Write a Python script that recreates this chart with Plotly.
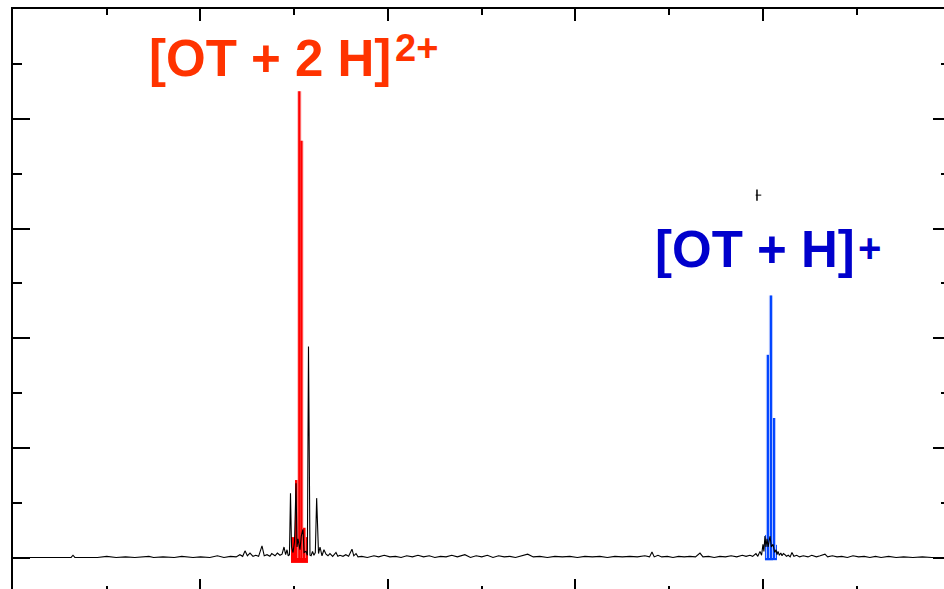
import plotly.graph_objects as go

# ---------------- data (m/z, relative intensity %) ----------------
black_mz = [200, 230, 262, 264, 266, 290, 300, 310, 320, 330, 345, 350, 360, 372, 380, 392, 400, 410, 418, 425, 432, 438,
            442, 445, 447.5, 450, 452.8, 456, 459, 462, 465.6, 468, 471, 474, 476, 479.5, 482, 484.8, 487, 489.1, 490.8,
            492.3, 493.6, 494.9, 496.0, 497.1, 498.7, 500.3, 501.9, 503.0, 504.0, 506.1, 507.5, 509.3, 510.5, 512.5, 514,
            515.2, 516.8, 518, 519.5, 521, 522.5, 523.9, 525.9, 527.5, 529.6, 531.7, 533.9, 536, 538.1, 541, 544.5, 546.5,
            548.8, 552, 555, 558, 561.6, 563.5, 565.9, 568,
            572, 578, 585, 590, 596, 602, 608, 614, 620, 626, 632, 638, 644, 650, 656, 662, 668, 674, 682, 688, 694, 700,
            706, 712, 718, 724, 730, 736, 742, 749, 755, 762, 770, 778, 786, 794, 802, 810, 818, 826, 834, 842, 850, 858,
            866, 874, 879, 881.6, 884, 888, 892, 898, 904, 910, 916, 922, 928, 932.8, 936, 942, 948, 954, 960, 966, 972,
            978, 982, 986.1, 989,
            992.5, 994.5, 996.8, 998.5, 1000, 1001, 1002.1, 1003.2, 1004.3, 1005.5, 1007.5, 1009, 1010.7, 1012.5, 1013.9,
            1015, 1016, 1017.5, 1019, 1020.3, 1021.8, 1023.5, 1025, 1027, 1029, 1030.9, 1033, 1036, 1039,
            1043, 1048, 1052, 1057, 1061, 1066.1, 1069, 1074, 1079, 1084, 1090, 1096, 1102, 1108, 1114, 1120, 1126, 1134,
            1142, 1150, 1160, 1170, 1180, 1193]
black_int = [0.1, 0.1, 0.1, 0.5, 0.1, 0.1, 0.3, 0.1, 0.2, 0.1, 0.3, 0.1, 0.2, 0.1, 0.3, 0.1, 0.2, 0.1, 0.4, 0.1, 0.3, 0.2,
             0.6, 0.3, 1.3, 0.4, 0.9, 0.3, 0.5, 0.3, 2.2, 0.4, 0.6, 0.3, 0.8, 0.4, 0.9, 0.5, 0.7, 2.0, 0.6,
             1.5, 0.4, 0.6, 11.8, 2.0, 1.0, 3.0, 13.6, 2.0, 3.5, 1.5, 4.0, 5.2, 1.0, 1.2, 0.5,
             38.5, 0.5, 0.4, 1.2, 0.5, 1.0, 10.9, 0.8, 2.0, 0.4, 1.5, 0.7, 0.4, 0.8, 0.3, 1.0, 0.3,
             0.5, 0.3, 0.6, 0.3, 1.6, 0.4, 0.8, 0.2,
             0.3, 0.1, 0.4, 0.2, 0.5, 0.2, 0.3, 0.1, 0.4, 0.2, 0.5, 0.2, 0.4, 0.1, 0.3, 0.2, 0.5, 0.2, 0.6, 0.1, 0.4, 0.2,
             0.5, 0.1, 0.4, 0.2, 0.3, 0.1, 0.4, 0.7, 0.2, 0.3, 0.1, 0.3, 0.2, 0.3, 0.1, 0.3, 0.2, 0.3, 0.1, 0.3, 0.2, 0.3,
             0.2, 0.4, 0.2, 1.1, 0.2, 0.5, 0.2, 0.3, 0.1, 0.3, 0.2, 0.3, 0.2, 0.9, 0.2, 0.3, 0.1, 0.3, 0.2, 0.4, 0.2,
             0.5, 0.3, 0.5, 0.3,
             0.8, 0.3, 1.2, 0.5, 2.5, 1.2, 4.0, 2.0, 3.5, 2.0, 4.0, 2.0, 2.5, 1.0, 1.5,
             0.6, 1.2, 0.5, 0.9, 0.4, 0.8, 0.6, 0.3, 0.5, 0.2, 1.0, 0.3, 0.5, 0.2,
             0.4, 0.2, 0.5, 0.2, 0.4, 0.7, 0.2, 0.4, 0.2, 0.3, 0.1, 0.4, 0.2, 0.3, 0.1, 0.3, 0.1, 0.3,
             0.1, 0.2, 0.1, 0.2, 0.1, 0.1]

# simulated isotope envelope [OT + 2H]2+
red_mz = [502.4, 505.4, 507.7, 510.9]
red_int = [14.2, 85.0, 76.0, 5.5]
red_env_mz = [505.6]
red_env_int = [3.8]

# simulated isotope envelope [OT + H]+
blue_mz = [1005.3, 1008.5, 1011.7]
blue_int = [37.0, 47.8, 25.5]
blue_env_mz = [1006.4, 1008.5]
blue_env_int = [4.2, 2.4]

# small stray cursor mark in the original figure
mark_mz = [993.6]
mark_int = [66.1]

x_range = [200, 1193.1]
y_range = [-5.65, 100]

label_red = "[OT + 2 H]"
label_red_sup = "2+"
label_blue = "[OT + H]"
label_blue_sup = "+"

RED = "#ff0000"
BLUE = "#0044ff"

fig = go.Figure()

# red envelope
fig.add_trace(go.Bar(x=red_env_mz, y=[v + 0.9 for v in red_env_int], base=-0.9, width=18.1,
                     marker=dict(color=RED, line=dict(width=0)), hoverinfo="skip"))
fig.add_trace(go.Bar(x=red_mz, y=red_int, width=[3.2, 4.4, 4.4, 3.2],
                     marker=dict(color="#ffb8b8", line=dict(width=0)), hoverinfo="skip"))
fig.add_trace(go.Bar(x=red_mz, y=red_int, width=[2.0, 2.4, 2.4, 2.0],
                     marker=dict(color=RED, line=dict(width=0)), hoverinfo="skip"))

# blue envelope
fig.add_trace(go.Bar(x=blue_env_mz, y=[v + 0.4 for v in blue_env_int], base=-0.4, width=[8.5, 12.8],
                     marker=dict(color=BLUE, line=dict(width=0)), hoverinfo="skip"))
fig.add_trace(go.Bar(x=blue_mz, y=blue_int, width=4.4,
                     marker=dict(color="#b8c8ff", line=dict(width=0)), hoverinfo="skip"))
fig.add_trace(go.Bar(x=blue_mz, y=blue_int, width=2.2,
                     marker=dict(color=BLUE, line=dict(width=0)), hoverinfo="skip"))

# measured spectrum
fig.add_trace(go.Scatter(x=black_mz, y=black_int, mode="lines",
                         line=dict(color="black", width=1.1), hoverinfo="skip"))

# stray mark
fig.add_trace(go.Scatter(x=mark_mz, y=mark_int, mode="markers", hoverinfo="skip",
                         marker=dict(symbol="line-ns", size=8, line=dict(color="black", width=1.5))))
fig.add_trace(go.Scatter(x=[m + 1.6 for m in mark_mz], y=mark_int, mode="markers", hoverinfo="skip",
                         marker=dict(symbol="line-ew", size=4, line=dict(color="black", width=1))))

# helper trace for mirrored axes
fig.add_trace(go.Scatter(x=x_range, y=y_range, xaxis="x2", yaxis="y2", mode="markers",
                         marker=dict(opacity=0), hoverinfo="skip"))

common = dict(showgrid=False, zeroline=False, showticklabels=False, tickcolor="black",
              tickwidth=2, ticks="inside")
fig.update_layout(
    width=944, height=589,
    margin=dict(l=13, r=0, t=9, b=0),
    plot_bgcolor="white", paper_bgcolor="white",
    showlegend=False, barmode="overlay",
    xaxis=dict(range=x_range, tick0=200, dtick=200, ticklen=10, showline=False,
               minor=dict(dtick=100, tick0=200, ticks="inside", ticklen=3, tickwidth=2, tickcolor="black"),
               **common),
    xaxis2=dict(range=x_range, overlaying="x", side="top", tick0=200, dtick=200, ticklen=12,
                showline=True, linecolor="black", linewidth=2,
                minor=dict(dtick=100, tick0=200, ticks="inside", ticklen=6, tickwidth=2, tickcolor="black"),
                **common),
    yaxis=dict(range=y_range, tick0=0, dtick=20, ticklen=17, showline=True, linecolor="black", linewidth=2,
               minor=dict(dtick=10, tick0=0, ticks="inside", ticklen=9, tickwidth=2, tickcolor="black"),
               **common),
    yaxis2=dict(range=y_range, overlaying="y", side="right", tick0=0, dtick=20, ticklen=11, showline=False,
                minor=dict(dtick=10, tick0=0, ticks="inside", ticklen=3, tickwidth=2, tickcolor="black"),
                **common),
)

main_font = "Liberation Sans, Arial"
fig.add_annotation(text="<b>%s</b>" % label_red, xref="paper", yref="paper", x=0.408, y=0.915,
                   xanchor="right", yanchor="middle", showarrow=False,
                   font=dict(family=main_font, size=51, color="#ff3300"))
fig.add_annotation(text="<b>%s</b>" % label_red_sup, xref="paper", yref="paper", x=0.4085, y=0.933,
                   xanchor="left", yanchor="middle", showarrow=False,
                   font=dict(family=main_font, size=38, color="#ff3300"))
fig.add_annotation(text="<b>%s</b>" % label_blue, xref="paper", yref="paper", x=0.9066, y=0.586,
                   xanchor="right", yanchor="middle", showarrow=False,
                   font=dict(family=main_font, size=51, color="#0000cc"))
fig.add_annotation(text="<b>%s</b>" % label_blue_sup, xref="paper", yref="paper", x=0.9060, y=0.588,
                   xanchor="left", yanchor="middle", showarrow=False,
                   font=dict(family=main_font, size=40, color="#0000cc"))

fig.write_html("out.html")
